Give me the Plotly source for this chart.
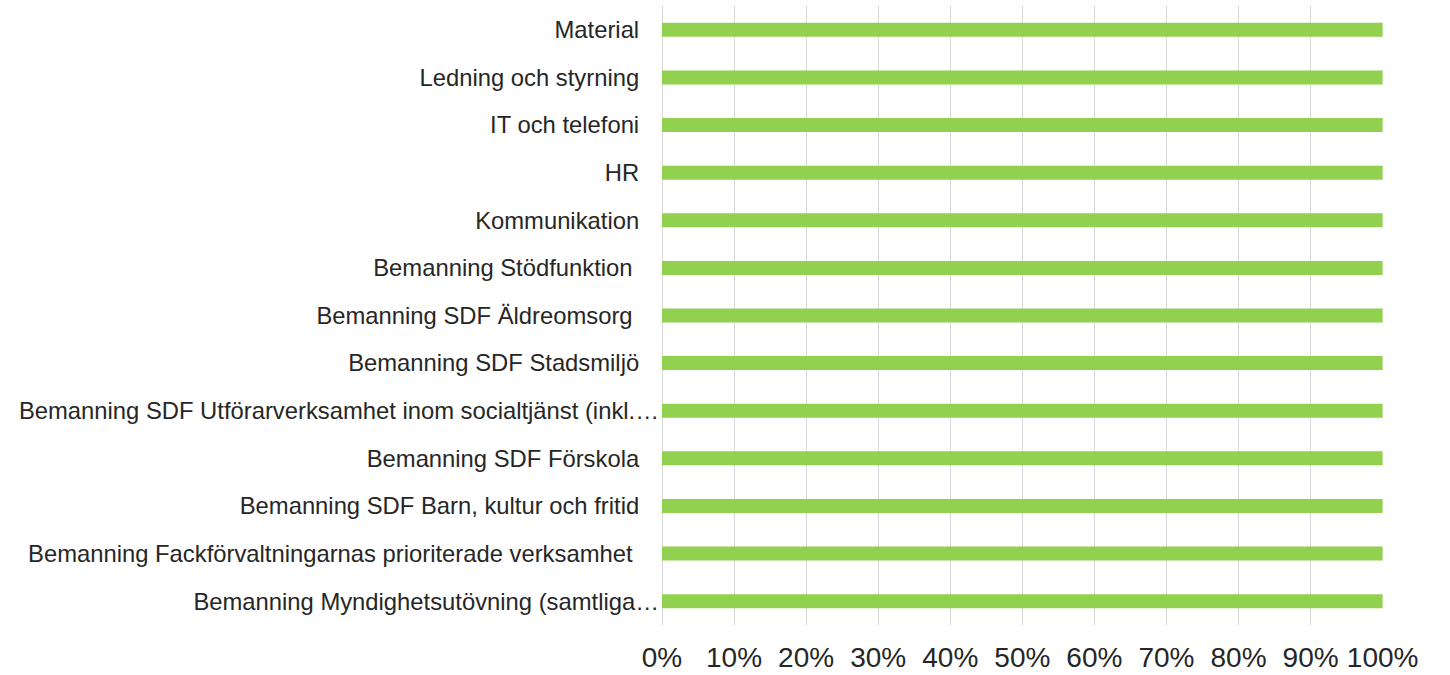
import plotly.graph_objects as go

categories = [
    "Material",
    "Ledning och styrning",
    "IT och telefoni",
    "HR",
    "Kommunikation",
    "Bemanning Stödfunktion ",
    "Bemanning SDF Äldreomsorg ",
    "Bemanning SDF Stadsmiljö",
    "Bemanning SDF Utförarverksamhet inom socialtjänst (inkl.…",
    "Bemanning SDF Förskola",
    "Bemanning SDF Barn, kultur och fritid",
    "Bemanning Fackförvaltningarnas prioriterade verksamhet ",
    "Bemanning Myndighetsutövning (samtliga…",
]
values = [1.0] * len(categories)
tick_vals = [0, 0.1, 0.2, 0.3, 0.4, 0.5, 0.6, 0.7, 0.8, 0.9, 1.0]
tick_text = ["0%", "10%", "20%", "30%", "40%", "50%", "60%", "70%", "80%", "90%", "100%"]

# display labels: truncated ones sit against the axis, others get a gap
def disp(c):
    c2 = c.replace(" ", "\u00a0") if c.endswith(" ") else c
    if c.endswith("…"):
        return c2
    return c2 + "\u00a0" * 3

labels = [disp(c) for c in categories]
ycats = labels[::-1]
xvals = values[::-1]

fig = go.Figure(go.Bar(
    x=xvals, y=ycats, orientation="h",
    marker=dict(color="#92D050", line=dict(width=0)),
    width=0.294,
))
fig.update_layout(
    width=1450, height=675,
    margin=dict(l=662, r=67, t=6, b=50),
    paper_bgcolor="white", plot_bgcolor="white",
    font=dict(family="Liberation Sans, Arial, sans-serif", color="#262626"),
    showlegend=False,
    bargap=0.5,
)
fig.update_xaxes(
    range=[0, 1.0005], tickvals=tick_vals, ticktext=tick_text,
    showgrid=True, gridcolor="#D9D9D9", gridwidth=1,
    zeroline=True, zerolinecolor="#D9D9D9", zerolinewidth=1,
    tickfont=dict(size=28, color="#262626"), ticks="", showline=False,
    ticklabelstandoff=13, automargin=False,
)
fig.update_yaxes(
    tickfont=dict(size=23.8, color="#262626"), ticks="", showgrid=False,
    showline=False, ticklabelstandoff=2, automargin=False,
)
fig.write_html("out.html", config={"displayModeBar": False},
               post_script="document.body.style.margin='0';")
